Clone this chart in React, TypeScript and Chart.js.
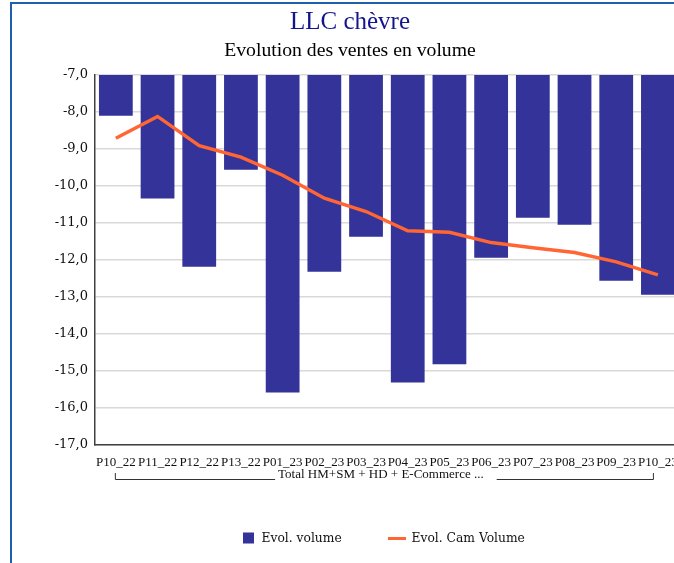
import React, { useEffect, useRef } from 'react';
import { Chart, registerables } from 'chart.js';

Chart.register(...registerables);

const chartTitle = 'LLC chèvre';
const chartSubtitle = 'Evolution des ventes en volume';
const groupLabel = 'Total HM+SM + HD + E-Commerce ...';

const categories = [
  'P10_22', 'P11_22', 'P12_22', 'P13_22', 'P01_23', 'P02_23', 'P03_23',
  'P04_23', 'P05_23', 'P06_23', 'P07_23', 'P08_23', 'P09_23', 'P10_23',
];

const volumeLabel = 'Evol. volume';
const volumeValues = [
  -8.10, -10.34, -12.18, -9.56, -15.58, -12.32, -11.37,
  -15.31, -14.82, -11.94, -10.86, -11.05, -12.56, -12.94,
];

const camLabel = 'Evol. Cam Volume';
const camValues = [
  -8.71, -8.12, -8.91, -9.22, -9.71, -10.33, -10.69,
  -11.21, -11.25, -11.53, -11.67, -11.80, -12.05, -12.40,
];

const yMin = -17;
const yMax = -7;
const yStep = 1;

const BAR_COLOR = '#333399';
const LINE_COLOR = '#ff6633';
const TITLE_COLOR = '#14148c';
const AXIS_COLOR = '#404040';
const GRID_COLOR = '#d9d9d9';
const TEXT_COLOR = '#111111';

const decorPlugin = {
  id: 'decor',
  afterDraw(chart: any) {
    const ctx = chart.ctx as CanvasRenderingContext2D;
    const w = chart.width;
    ctx.save();

    // Titles
    ctx.textAlign = 'center';
    ctx.textBaseline = 'alphabetic';
    ctx.fillStyle = TITLE_COLOR;
    ctx.font = '25px "Liberation Serif"';
    ctx.fillText(chartTitle, w / 2, 25);
    ctx.fillStyle = '#000000';
    ctx.font = '19.7px "Liberation Serif"';
    ctx.fillText(chartSubtitle, w / 2, 52);

    // Group bracket under category labels
    const xs = chart.scales.x;
    const left = xs.getPixelForValue(0) - 1;
    const right = xs.getPixelForValue(categories.length - 1) - 5;
    const textCx = (left + right) / 2 - 3;
    const yLine = 475.5;
    ctx.font = '13px "Liberation Serif"';
    ctx.textBaseline = 'middle';
    ctx.fillStyle = TEXT_COLOR;
    ctx.fillText(groupLabel, textCx, 471);
    const tw = ctx.measureText(groupLabel).width;
    ctx.strokeStyle = '#333333';
    ctx.lineWidth = 1;
    ctx.beginPath();
    ctx.moveTo(left + 0.5, 469);
    ctx.lineTo(left + 0.5, yLine);
    ctx.lineTo(textCx - tw / 2 - 3, yLine);
    ctx.moveTo(textCx + tw / 2 + 13, yLine);
    ctx.lineTo(right + 0.5, yLine);
    ctx.lineTo(right + 0.5, 469);
    ctx.stroke();

    // Legend
    const ly = 534.5;
    ctx.fillStyle = BAR_COLOR;
    ctx.fillRect(231, ly - 6, 11, 11);
    ctx.strokeStyle = LINE_COLOR;
    ctx.lineWidth = 3;
    ctx.beginPath();
    ctx.moveTo(376, ly);
    ctx.lineTo(394, ly);
    ctx.stroke();
    ctx.fillStyle = TEXT_COLOR;
    ctx.textAlign = 'left';
    ctx.font = '12.3px "DejaVu Serif"';
    ctx.fillText(volumeLabel, 249.5, ly);
    ctx.fillText(camLabel, 399.5, ly);

    ctx.restore();
  },
};

export default function App() {
  const ref = useRef<HTMLCanvasElement>(null);

  useEffect(() => {
    if (!ref.current) return;
    const chart = new Chart(ref.current, {
      type: 'bar',
      data: {
        labels: categories,
        datasets: [
          {
            type: 'line',
            label: camLabel,
            data: camValues,
            borderColor: LINE_COLOR,
            backgroundColor: LINE_COLOR,
            borderWidth: 3.5,
            pointRadius: 0,
            pointHoverRadius: 0,
            tension: 0,
            fill: false,
            order: 0,
          } as any,
          {
            type: 'bar',
            label: volumeLabel,
            data: volumeValues,
            backgroundColor: BAR_COLOR,
            borderWidth: 0,
            barPercentage: 0.81,
            categoryPercentage: 1,
            order: 1,
          } as any,
        ],
      },
      options: {
        animation: false,
        responsive: true,
        maintainAspectRatio: false,
        layout: { padding: { top: 71, left: 0, right: 6, bottom: 0 } },
        plugins: {
          legend: { display: false },
          title: { display: false },
          tooltip: { enabled: false },
        },
        scales: {
          x: {
            grid: { display: false, drawTicks: false },
            border: { display: true, color: AXIS_COLOR, width: 1.5 },
            ticks: {
              autoSkip: false,
              maxRotation: 0,
              minRotation: 0,
              padding: 10,
              color: TEXT_COLOR,
              font: { family: '"Liberation Serif"', size: 13 },
            },
            afterFit: (s: any) => {
              s.height = 118;
            },
          },
          y: {
            min: yMin,
            max: yMax,
            grid: { color: GRID_COLOR, lineWidth: 1.5, drawTicks: false },
            border: { display: true, color: AXIS_COLOR, width: 1.5 },
            ticks: {
              stepSize: yStep,
              padding: 7,
              color: TEXT_COLOR,
              font: { family: '"DejaVu Serif"', size: 13 },
              callback: (v: any) => Number(v).toFixed(1).replace('.', ','),
            },
            afterFit: (s: any) => {
              s.width = 83;
            },
          },
        },
      } as any,
      plugins: [decorPlugin],
    });
    return () => chart.destroy();
  }, []);

  return (
    <div
      style={{
        position: 'fixed',
        left: 0,
        top: 0,
        width: 674,
        height: 563,
        overflow: 'hidden',
        background: '#ffffff',
      }}
    >
      <div
        style={{
          position: 'absolute',
          left: 10,
          top: 2,
          width: 720,
          height: 620,
          borderLeft: '2px solid #1e5fae',
          borderTop: '2px solid #1e5fae',
        }}
      />
      <div style={{ position: 'absolute', left: 12, top: 4, width: 676, height: 559 }}>
        <canvas ref={ref} />
      </div>
    </div>
  );
}
